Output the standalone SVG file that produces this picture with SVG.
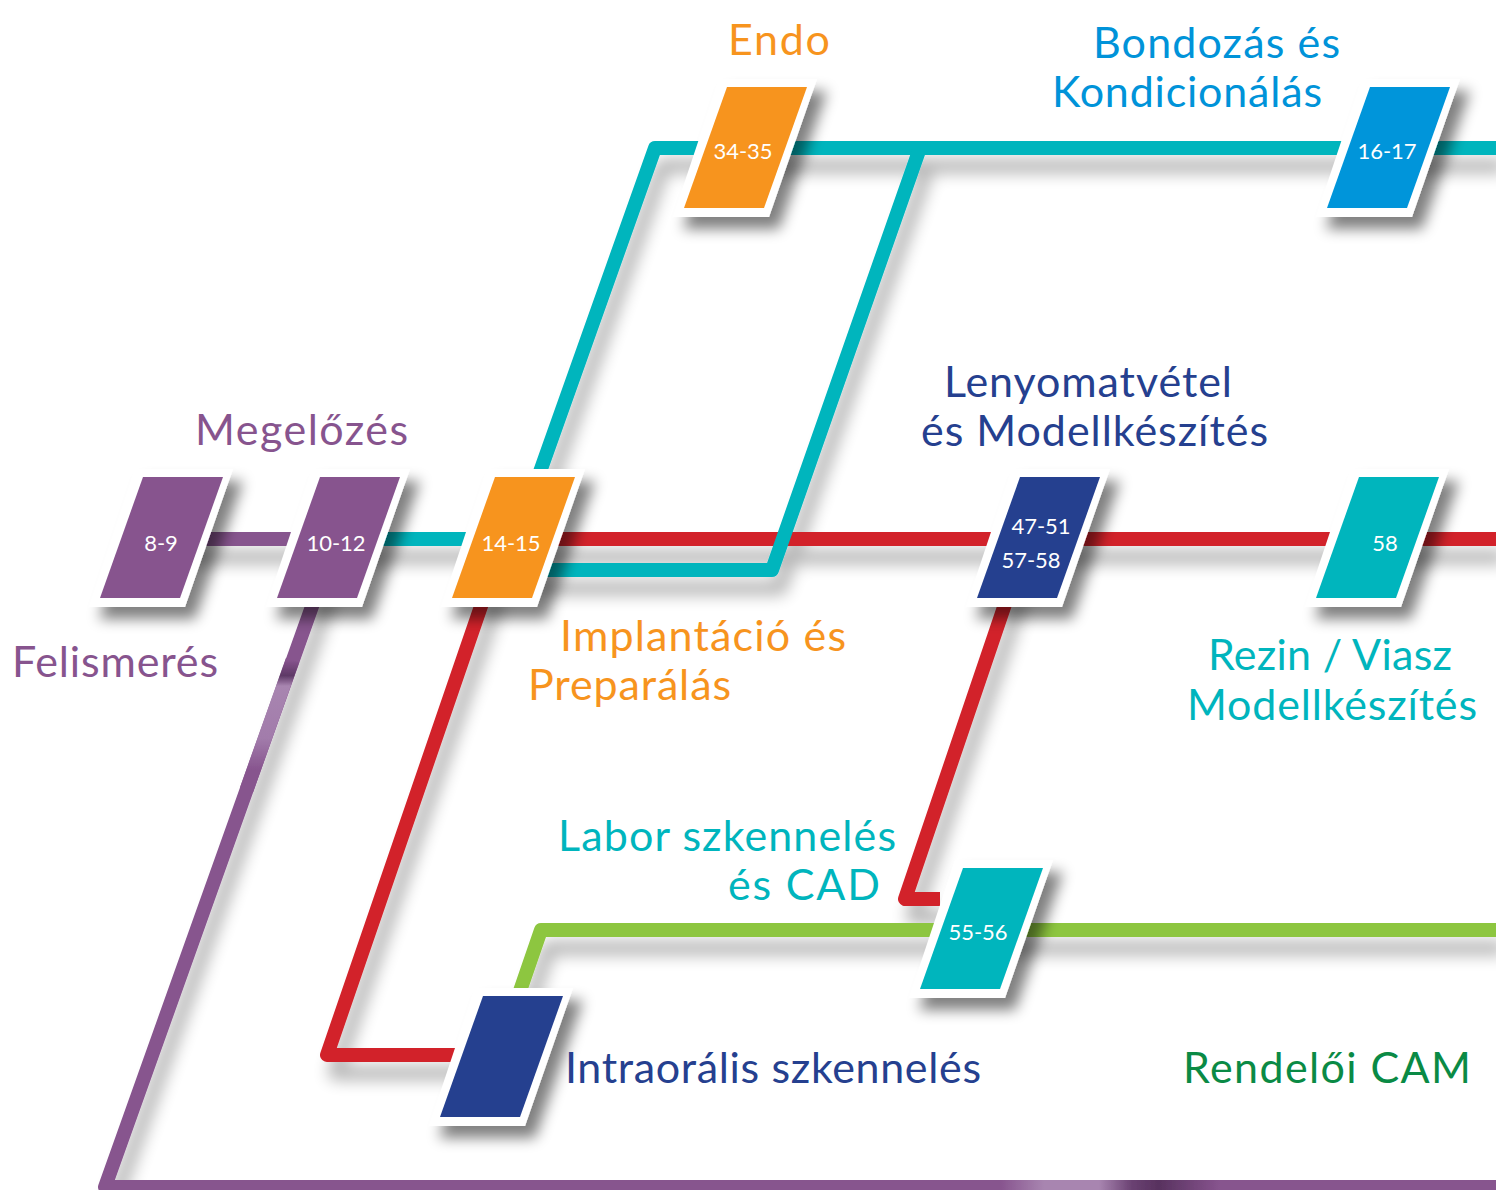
<svg xmlns="http://www.w3.org/2000/svg" xmlns:xlink="http://www.w3.org/1999/xlink" width="1496" height="1190" viewBox="0 0 1496 1190">
<style>
.ln{fill:none;stroke-width:14;stroke-linejoin:round;stroke-linecap:butt}
.teal{stroke:#00b5bd}.red{stroke:#d2232a}.pur{stroke:#87548e}.grn{stroke:#8dc63f}
.lbl{font-family:Lato,"Open Sans","Noto Sans",sans-serif;font-size:22px;fill:#fff;text-anchor:middle}
.cap{font-family:Lato,"Open Sans","Noto Sans",sans-serif;font-size:43px}
</style>
<defs>
<filter id="lsh" x="-10%" y="-10%" width="130%" height="140%">
<feGaussianBlur in="SourceAlpha" stdDeviation="8"/>
<feOffset dx="8" dy="18" result="b"/>
<feComponentTransfer><feFuncA type="linear" slope="0.3"/></feComponentTransfer>
<feMerge><feMergeNode/><feMergeNode in="SourceGraphic"/></feMerge>
</filter>
<filter id="nsh" x="-40%" y="-30%" width="200%" height="170%">
<feGaussianBlur in="SourceAlpha" stdDeviation="7"/>
<feOffset dx="10" dy="12"/>
<feComponentTransfer><feFuncA type="linear" slope="0.5"/></feComponentTransfer>
<feMerge><feMergeNode/><feMergeNode in="SourceGraphic"/></feMerge>
</filter>
<polygon id="frame" points="-8,-8 90,-8 42,130 -54,130" fill="#fff"/>
<polygon id="card" points="0,0 80,0 37,121 -43,121"/>
<linearGradient id="pgd" gradientUnits="userSpaceOnUse" x1="0" y1="660" x2="0" y2="790">
<stop offset="0" stop-color="#87548e"/><stop offset="0.12" stop-color="#5e3866"/><stop offset="0.2" stop-color="#a885b0"/><stop offset="0.6" stop-color="#a27cab"/><stop offset="0.85" stop-color="#87548e"/><stop offset="1" stop-color="#87548e"/>
</linearGradient>
<linearGradient id="pgh" gradientUnits="userSpaceOnUse" x1="1000" y1="0" x2="1220" y2="0">
<stop offset="0" stop-color="#87548e"/><stop offset="0.2" stop-color="#a885b0"/><stop offset="0.45" stop-color="#a885b0"/><stop offset="0.6" stop-color="#6a4172"/><stop offset="0.72" stop-color="#58325f"/><stop offset="1" stop-color="#87548e"/>
</linearGradient>
</defs>
<rect width="1496" height="1190" fill="#fff"/>
<g id="connectors" filter="url(#lsh)">
<path class="ln pur" d="M180 539H300"/>
<path class="ln teal" d="M350 539H480"/>
<path class="ln red" d="M530 539H1496"/>
<path class="ln teal" d="M530 500L655 148H1496"/>
<path class="ln teal" d="M530 570H772L920 148"/>
<path class="ln red" d="M490 580L327 1055H470"/>
<path class="ln red" d="M1020 560L905 899H940"/>
<path class="ln grn" d="M1496 930H541L510 1020"/>
<path class="ln pur" d="M325 570L105 1187H1500"/>
<path class="ln" stroke="url(#pgd)" d="M292.6 660L246.5 790"/>
<path class="ln" stroke="url(#pgh)" d="M1000 1187H1220"/>
</g>
<g id="n8-9" transform="translate(143,477)"><use href="#frame" filter="url(#nsh)"/><use href="#card" fill="#87548e"/><text class="lbl" x="18" y="74">8-9</text></g>
<g id="n10-12" transform="translate(320,477)"><use href="#frame" filter="url(#nsh)"/><use href="#card" fill="#87548e"/><text class="lbl" x="16" y="74">10-12</text></g>
<g id="n14-15" transform="translate(495,477)"><use href="#frame" filter="url(#nsh)"/><use href="#card" fill="#f7941e"/><text class="lbl" x="16" y="74">14-15</text></g>
<g id="n34-35" transform="translate(727,87)"><use href="#frame" filter="url(#nsh)"/><use href="#card" fill="#f7941e"/><text class="lbl" x="16" y="72">34-35</text></g>
<g id="n16-17" transform="translate(1370,87)"><use href="#frame" filter="url(#nsh)"/><use href="#card" fill="#0095da"/><text class="lbl" x="17" y="72">16-17</text></g>
<g id="n47-51" transform="translate(1020,477)"><use href="#frame" filter="url(#nsh)"/><use href="#card" fill="#25408f"/><text class="lbl" x="21" y="57">47-51</text><text class="lbl" x="11" y="91">57-58</text></g>
<g id="n58" transform="translate(1359,477)"><use href="#frame" filter="url(#nsh)"/><use href="#card" fill="#00b5bd"/><text class="lbl" x="26" y="74">58</text></g>
<g id="n55-56" transform="translate(963,868)"><use href="#frame" filter="url(#nsh)"/><use href="#card" fill="#00b5bd"/><text class="lbl" x="15" y="72">55-56</text></g>
<g id="nintra" transform="translate(483,996)"><use href="#frame" filter="url(#nsh)"/><use href="#card" fill="#25408f"/></g>
<g id="captions" class="cap" lengthAdjust="spacingAndGlyphs">
<text x="728" y="55" fill="#f7941e" textLength="102">Endo</text>
<text x="1093" y="58" fill="#0093d9" textLength="247">Bondozás és</text>
<text x="1052" y="107" fill="#0093d9" textLength="270">Kondicionálás</text>
<text x="195" y="445" fill="#87548e" textLength="213">Megelőzés</text>
<text x="12" y="677" fill="#87548e" textLength="206">Felismerés</text>
<text x="560" y="651" fill="#f7941e" textLength="286">Implantáció és</text>
<text x="528" y="700" fill="#f7941e" textLength="203">Preparálás</text>
<text x="944" y="397" fill="#25408f" textLength="288">Lenyomatvétel</text>
<text x="921" y="446" fill="#25408f" textLength="347">és Modellkészítés</text>
<text x="1208" y="670" fill="#00b5bd" textLength="244">Rezin / Viasz</text>
<text x="1187" y="720" fill="#00b5bd" textLength="290">Modellkészítés</text>
<text x="558" y="851" fill="#00b5bd" textLength="338">Labor szkennelés</text>
<text x="728" y="900" fill="#00b5bd" textLength="152">és CAD</text>
<text x="565" y="1083" fill="#25408f" textLength="416">Intraorális szkennelés</text>
<text x="1183" y="1083" fill="#0a8a45" textLength="288">Rendelői CAM</text>
</g>
</svg>
